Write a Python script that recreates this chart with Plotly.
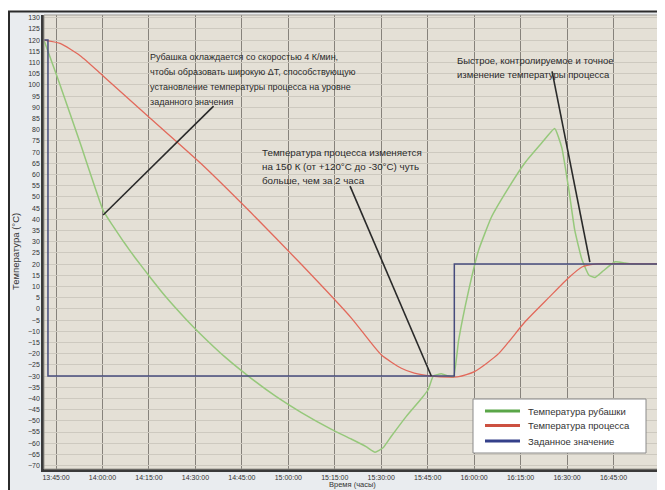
import plotly.graph_objects as go

DAY = "2000-01-01 "

# ---------------- data ----------------
series_names = ["Температура рубашки", "Температура процесса", "Заданное значение"]

jacket_times = ["13:41:06", "13:43:42", "13:46:18", "13:52:48", "14:00:12", "14:03:06",
                "14:07:00", "14:10:36", "14:15:30", "14:20:18", "14:26:48", "14:31:42",
                "14:39:48", "14:47:54", "14:56:00", "15:04:06", "15:13:48", "15:20:18",
                "15:25:06", "15:28:00", "15:30:36", "15:33:12", "15:38:06", "15:43:00",
                "15:45:12", "15:46:48", "15:49:24", "15:51:42", "15:53:18", "15:55:00",
                "15:58:12", "16:01:24", "16:05:36", "16:11:06", "16:16:18", "16:21:48",
                "16:26:00", "16:28:18", "16:30:36", "16:32:30", "16:34:48", "16:37:06",
                "16:39:00", "16:41:18", "16:45:30", "16:48:42", "16:52:00", "17:01:18"]
jacket_values = [120, 110, 100, 74, 44, 37.6,
                 29.6, 22.7, 13.9, 5.6, -4.4, -11.3,
                 -21.8, -30.9, -39.1, -46.2, -53.7, -58.1,
                 -61.5, -64, -62, -57, -48, -40,
                 -36, -30, -29, -30, -30.5, -14,
                 8, 26, 41, 54, 65, 74,
                 80.5, 72, 53, 35, 22, 15,
                 14, 16.5, 21, 20.5, 20, 20]

process_times = ["13:41:06", "13:46:18", "13:52:48", "14:00:12", "14:15:30", "14:31:42",
                 "14:47:54", "15:04:06", "15:20:18", "15:30:00", "15:36:30", "15:40:42",
                 "15:46:10", "15:51:42", "15:55:00", "16:00:06", "16:07:54", "16:16:18",
                 "16:24:06", "16:30:36", "16:34:48", "16:39:00", "17:01:18"]
process_values = [120, 118.5, 113, 104, 85, 65,
                  43, 20, -4, -20.5, -26.5, -28.7,
                  -30, -30.5, -30.3, -28, -20, -6,
                  5, 14, 18.7, 20, 20]

setpoint_times = ["13:41:06", "13:42:24", "15:53:36", "17:01:18"]
setpoint_values = [120, -30, 20, 20]

x_tick_labels = ["13:45:00", "14:00:00", "14:15:00", "14:30:00", "14:45:00", "15:00:00",
                 "15:15:00", "15:30:00", "15:45:00", "16:00:00", "16:15:00", "16:30:00",
                 "16:45:00", "17:00:00"]
y_tick_values = list(range(-70, 131, 5))

# annotation texts and their leader lines (time, value) pairs
note1_lines = ["Рубашка охлаждается со скоростью 4 К/мин,",
               "чтобы образовать широкую ΔT, способствующую",
               "установление температуры процесса на уровне",
               "заданного значения"]
note2_lines = ["Температура процесса изменяется",
               "на 150 К (от +120°С до -30°С) чуть",
               "больше, чем за 2 часа"]
note3_lines = ["Быстрое, контролируемое и точное",
               "изменение температуры процесса"]
leader_times = [("14:35:52", "14:00:13"), ("15:19:56", "15:46:10"), ("16:25:10", "16:37:22")]
leader_values = [(90.5, 41.9), (54.8, -30), (106.0, 20.9)]

x_range = ["13:41:07", "17:00:20"]
y_range = [-71.5, 131.2]

# ---------------- figure ----------------
OFF = 8                      # page body margin of the html page
W, H = 665 - OFF, 490 - OFF
ML, MR, MT, MB = 36, 4, 7, 21
PW, PH = W - ML - MR, H - MT - MB
FONT = "Liberation Sans, Arial, sans-serif"


def px_x(x):
    """page pixel -> paper x"""
    return (x - OFF - ML) / PW


def px_y(y):
    """page pixel -> paper y"""
    return (H - MB - (y - OFF)) / PH


def t(s):
    return DAY + s


colors_line = ["#96c87b", "#e2695b", "#464b7c"]
colors_legend = ["#5aa648", "#cc5040", "#34408a"]

fig = go.Figure()
fig.add_trace(go.Scatter(x=[t(s) for s in jacket_times], y=jacket_values, mode="lines",
                         name=series_names[0],
                         line=dict(color=colors_line[0], width=1.5, shape="spline", smoothing=0.4),
                         showlegend=False, hoverinfo="skip"))
fig.add_trace(go.Scatter(x=[t(s) for s in process_times], y=process_values, mode="lines",
                         name=series_names[1],
                         line=dict(color=colors_line[1], width=1.3, shape="spline", smoothing=0.6),
                         showlegend=False, hoverinfo="skip"))
fig.add_trace(go.Scatter(x=[t(s) for s in setpoint_times], y=setpoint_values, mode="lines",
                         name=series_names[2],
                         line=dict(color=colors_line[2], width=1.5, shape="hv"),
                         showlegend=False, hoverinfo="skip"))

# leader lines
for (t0, t1), (v0, v1) in zip(leader_times, leader_values):
    fig.add_shape(type="line", xref="x", yref="y", x0=t(t0), x1=t(t1), y0=v0, y1=v1,
                  line=dict(color="#2a2a2a", width=1.6), layer="above")


def add_note(lines, x_px, y_first, step, size):
    for i, line in enumerate(lines):
        fig.add_annotation(text=line, xref="paper", yref="paper", x=px_x(x_px),
                           y=px_y(y_first + i * step), xanchor="left", yanchor="middle",
                           showarrow=False,
                           font=dict(family=FONT, size=size, color="#2a2a2a"))


add_note(note1_lines, 148, 57, 15, 9)
add_note(note2_lines, 260, 152, 14.5, 9.8)
add_note(note3_lines, 455, 60, 14, 9.5)

# axis titles
fig.add_annotation(text="Температура (°C)", xref="paper", yref="paper", x=px_x(16), y=px_y(252),
                   textangle=-90, showarrow=False, xanchor="center", yanchor="middle",
                   font=dict(family=FONT, size=9.5, color="#333"))
fig.add_annotation(text="Время (часы)", xref="paper", yref="paper", x=px_x(352), y=px_y(490),
                   showarrow=False, xanchor="center", yanchor="bottom", borderpad=0,
                   font=dict(family=FONT, size=7.5, color="#333"))

# outer white margin and frame
fig.add_shape(type="rect", xref="paper", yref="paper", x0=px_x(0), x1=px_x(670), y0=px_y(11), y1=px_y(0),
              fillcolor="white", line=dict(width=0), layer="above")
fig.add_shape(type="line", xref="paper", yref="paper", x0=px_x(9), x1=px_x(9), y0=px_y(495), y1=px_y(11),
              line=dict(color="#2b2b2b", width=2), layer="above")
fig.add_shape(type="line", xref="paper", yref="paper", x0=px_x(8), x1=px_x(670), y0=px_y(11.5), y1=px_y(11.5),
              line=dict(color="#2b2b2b", width=2), layer="above")
# plot area thin border (top/right)
fig.add_shape(type="rect", xref="paper", yref="paper", x0=0, x1=1, y0=0, y1=1,
              line=dict(color="#9b9890", width=1), layer="above")

# legend drawn by hand (box, samples, labels)
LEG_BOX = (473, 399, 646, 453)
LEG_ROWS = [411, 425.5, 441]
fig.add_shape(type="rect", xref="paper", yref="paper",
              x0=px_x(LEG_BOX[0]), x1=px_x(LEG_BOX[2]), y0=px_y(LEG_BOX[3]), y1=px_y(LEG_BOX[1]),
              fillcolor="white", line=dict(color="#8a8a8a", width=1), layer="above")
for name, c, yy in zip(series_names, colors_legend, LEG_ROWS):
    fig.add_shape(type="line", xref="paper", yref="paper", x0=px_x(485), x1=px_x(520),
                  y0=px_y(yy), y1=px_y(yy), line=dict(color=c, width=3), layer="above")
    fig.add_annotation(text=name, xref="paper", yref="paper", x=px_x(526), y=px_y(yy),
                       xanchor="left", yanchor="middle", showarrow=False,
                       font=dict(family=FONT, size=9.5, color="#333"))

fig.update_layout(
    width=W, height=H,
    margin=dict(l=ML, r=MR, t=MT, b=MB, pad=0),
    paper_bgcolor="#e9ecef",
    plot_bgcolor="#e4e0d6",
    font=dict(family=FONT, color="#333"),
    showlegend=False,
)
fig.update_xaxes(
    type="date", range=[t(x_range[0]), t(x_range[1])],
    tickvals=[t(s) for s in x_tick_labels], ticktext=x_tick_labels,
    tickfont=dict(size=7, color="#333"), ticks="",
    showgrid=True, gridcolor="#86827b", gridwidth=1,
    showline=True, linecolor="#3a3a3a", linewidth=2.5, zeroline=False,
)
fig.update_yaxes(
    range=y_range, tickvals=y_tick_values,
    tickfont=dict(size=7, color="#333"), ticks="",
    showgrid=True, gridcolor="#cdc9bf", gridwidth=1,
    showline=True, linecolor="#3a3a3a", linewidth=2.5, zeroline=False,
)

fig.write_html("out.html")
